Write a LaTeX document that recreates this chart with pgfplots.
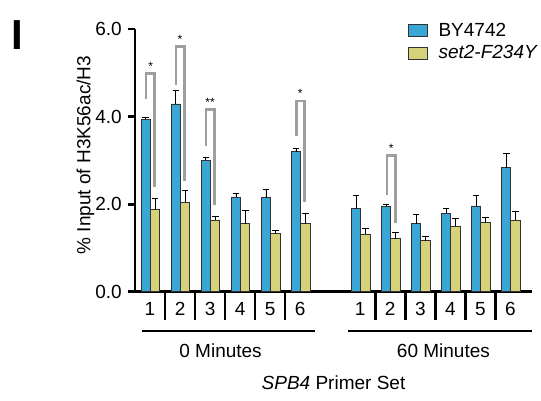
\documentclass[border=0pt]{standalone}
\usepackage{pgfplots}
\pgfplotsset{compat=1.18}
\usepackage{fontspec}
\setmainfont{Liberation Sans}
\definecolor{bybar}{HTML}{3AA6D6}
\definecolor{setbar}{HTML}{D5D27A}
\definecolor{brk}{HTML}{9E9E9E}

% x: 1-6 = 0 min, 8-13 = 60 min
\begin{document}
\fontsize{14.25}{17}\selectfont
\begin{tikzpicture}
\path[use as bounding box] (-101.25pt,-81.2pt) rectangle (304.5pt,218.8pt);
\begin{axis}[
  at={(0,0)}, anchor=south west,
  scale only axis, width=297.75pt, height=197pt,
  clip=false,
  ybar, bar width=0.31,
  xmin=0.5, xmax=13.72, ymin=0, ymax=6,
  axis x line*=bottom, axis y line*=left,
  axis line style={line width=2pt, black},
  xtick={1,2,3,4,5,6,8,9,10,11,12,13},
  xticklabels={1,2,3,4,5,6,1,2,3,4,5,6},
  xtick style={draw=none},
  xticklabel style={yshift=2pt},
  ytick={0,2,4,6},
  ytick style={line width=2pt, black},
  tick align=outside, major tick length=5pt,
  yticklabel style={/pgf/number format/.cd, fixed, fixed zerofill, precision=1},
  /pgf/number format/assume math mode=true,
  ylabel={\% Input of H3K56ac/H3},
  ylabel style={at={(axis description cs:-0.125,0.52)}, anchor=center},
  legend style={at={(rel axis cs:0.688,1.035)}, anchor=north west, draw=none, fill=none,
    inner sep=0pt, row sep=1pt, legend cell align=left,
    /tikz/every odd column/.append style={column sep=6pt}},
  legend image code/.code={\draw[#1] (0pt,-4.5pt) rectangle (14pt,4.5pt);},
  error bars/y dir=plus, error bars/y explicit,
  error bars/error bar style={black, line width=0.6pt},
  error bars/error mark options={rotate=90, mark size=2.5pt, black, line width=0.6pt},
]
\addplot[fill=bybar, draw=black!80, line width=0.6pt, bar shift=-0.14] coordinates {
  (1,3.94) +- (0,0.05) (2,4.29) +- (0,0.32) (3,3.00) +- (0,0.07)
  (4,2.16) +- (0,0.09) (5,2.15) +- (0,0.18) (6,3.20) +- (0,0.08)
  (8,1.90) +- (0,0.29) (9,1.95) +- (0,0.05) (10,1.55) +- (0,0.22)
  (11,1.79) +- (0,0.12) (12,1.96) +- (0,0.25) (13,2.83) +- (0,0.34)
};
\addlegendentry{BY4742}
\addplot[fill=setbar, draw=black!80, line width=0.6pt, bar shift=0.17] coordinates {
  (1,1.87) +- (0,0.26) (2,2.04) +- (0,0.27) (3,1.64) +- (0,0.09)
  (4,1.55) +- (0,0.30) (5,1.33) +- (0,0.08) (6,1.55) +- (0,0.24)
  (8,1.32) +- (0,0.12) (9,1.21) +- (0,0.14) (10,1.17) +- (0,0.09)
  (11,1.50) +- (0,0.17) (12,1.58) +- (0,0.11) (13,1.64) +- (0,0.19)
};
\addlegendentry{\itshape set2-F234Y}

% separators between primer sets
\pgfplotsinvokeforeach{1.5,2.5,3.5,4.5,5.5,8.5,9.5,10.5,11.5,12.5}{
  \draw[line width=2pt] (axis cs:#1,0) -- (axis cs:#1,-0.65);
}
\draw[line width=2pt] (axis cs:0.72,-0.9) -- (axis cs:6.5,-0.9);
\draw[line width=2pt] (axis cs:7.6,-0.9) -- (axis cs:13.72,-0.9);
\node at (axis cs:3.35,-1.34) {0 Minutes};
\node at (axis cs:10.77,-1.34) {60 Minutes};
\node at (axis cs:7.11,-2.07) {\textit{SPB4} Primer Set};

% significance brackets
\draw[brk, line width=2pt] (axis cs:0.87,4.40) |- (axis cs:1.16,4.99) -- (axis cs:1.16,2.40);
\node[font=\small, anchor=south, inner sep=1pt] at (axis cs:1.02,5.02) {*};
\draw[brk, line width=2pt] (axis cs:1.86,4.72) |- (axis cs:2.14,5.60) -- (axis cs:2.14,2.52);
\node[font=\small, anchor=south, inner sep=1pt] at (axis cs:2.0,5.63) {*};
\draw[brk, line width=2pt] (axis cs:2.86,3.33) |- (axis cs:3.14,4.17) -- (axis cs:3.14,1.97);
\node[font=\small, anchor=south, inner sep=1pt] at (axis cs:3.0,4.20) {**};
\draw[brk, line width=2pt] (axis cs:5.87,3.56) |- (axis cs:6.14,4.36) -- (axis cs:6.14,2.04);
\node[font=\small, anchor=south, inner sep=1pt] at (axis cs:6.0,4.39) {*};
\draw[brk, line width=2pt] (axis cs:8.89,2.22) |- (axis cs:9.17,3.11) -- (axis cs:9.17,1.58);
\node[font=\small, anchor=south, inner sep=1pt] at (axis cs:9.03,3.14) {*};
\end{axis}
\node[font=\fontsize{31.5}{32}\selectfont\bfseries] at (-88.5pt,192.5pt) {I};
\end{tikzpicture}
\end{document}
